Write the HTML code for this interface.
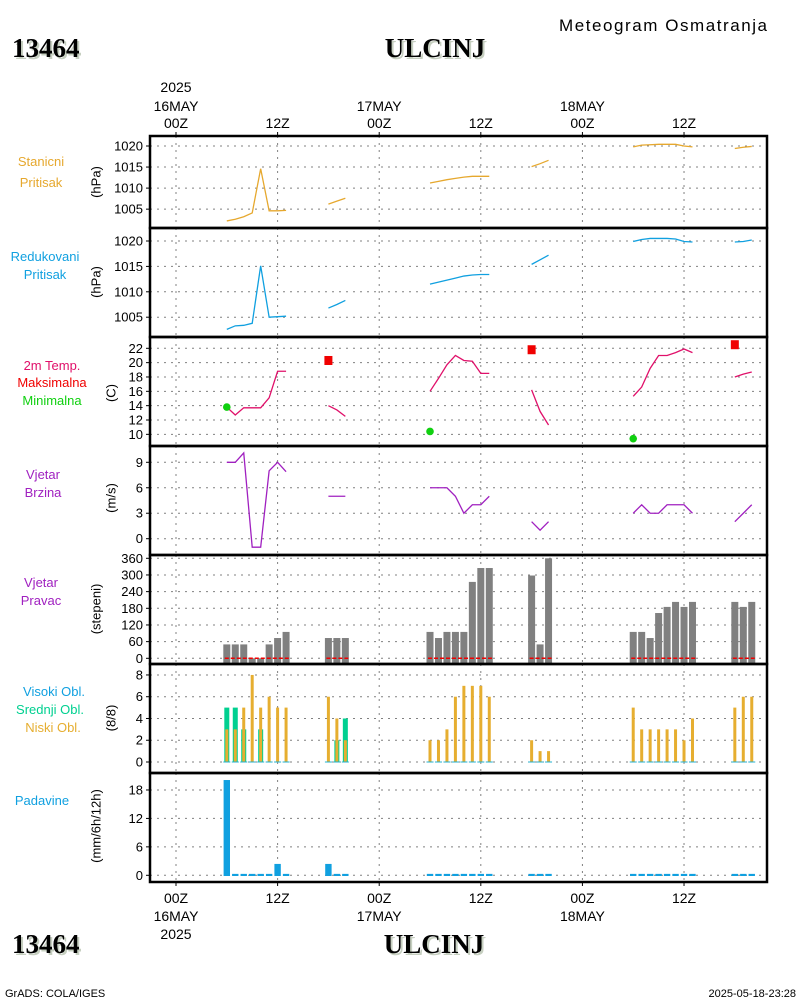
<!DOCTYPE html>
<html><head><meta charset="utf-8"><style>
html,body{margin:0;padding:0;background:#fff;}
svg{display:block;font-family:"Liberation Sans",sans-serif;}
</style></head><body>
<svg id="c" width="800" height="1000" viewBox="0 0 800 1000" xmlns="http://www.w3.org/2000/svg">
<g>
<text x="559" y="31" font-size="17" fill="#000" textLength="208">Meteogram Osmatranja</text>
<text x="14" y="59" font-size="27" font-weight="bold" font-family="Liberation Serif,serif" fill="#c6cfc0">13464</text>
<text x="12" y="57" font-size="27" font-weight="bold" font-family="Liberation Serif,serif" fill="#000">13464</text>
<text x="437" y="59" font-size="27" font-weight="bold" font-family="Liberation Serif,serif" fill="#c6cfc0" text-anchor="middle">ULCINJ</text>
<text x="435" y="57" font-size="27" font-weight="bold" font-family="Liberation Serif,serif" fill="#000" text-anchor="middle">ULCINJ</text>
<text x="14" y="955" font-size="27" font-weight="bold" font-family="Liberation Serif,serif" fill="#c6cfc0">13464</text>
<text x="12" y="953" font-size="27" font-weight="bold" font-family="Liberation Serif,serif" fill="#000">13464</text>
<text x="436" y="955" font-size="27" font-weight="bold" font-family="Liberation Serif,serif" fill="#c6cfc0" text-anchor="middle">ULCINJ</text>
<text x="434" y="953" font-size="27" font-weight="bold" font-family="Liberation Serif,serif" fill="#000" text-anchor="middle">ULCINJ</text>
<text x="5" y="997" font-size="11" fill="#000">GrADS: COLA/IGES</text>
<text x="796" y="997" font-size="11" fill="#000" text-anchor="end">2025-05-18-23:28</text>
</g>
</svg>
<script>
const hours=[6,7,8,9,10,11,12,13,18,19,20,30,31,32,33,34,35,36,37,42,43,44,54,55,56,57,58,59,60,61,66,67,68];
const stationP=[1002.2,1002.6,1003.2,1004.1,1014.6,1004.6,1004.6,1004.7,1006.2,1006.9,1007.6,1011.2,1011.6,1012.0,1012.3,1012.6,1012.8,1012.8,1012.8,1015.1,1015.8,1016.6,1019.8,1020.2,1020.3,1020.4,1020.4,1020.4,1020.0,1019.8,1019.4,1019.7,1019.9];
const redP=[1002.6,1003.3,1003.4,1003.8,1015.1,1005.0,1005.1,1005.2,1006.8,1007.5,1008.3,1011.5,1011.9,1012.3,1012.7,1013.1,1013.3,1013.4,1013.4,1015.4,1016.3,1017.2,1019.9,1020.3,1020.5,1020.5,1020.5,1020.4,1019.9,1019.8,1019.8,1019.9,1020.2];
const temp=[13.8,12.7,13.7,13.7,13.7,15.1,18.8,18.8,14.0,13.4,12.5,16.0,17.8,19.7,21.0,20.3,20.2,18.5,18.5,16.2,13.2,11.3,15.3,16.6,19.2,21.0,21.0,21.4,21.9,21.4,18.0,18.4,18.7];
const maxHours=[18,42,66];
const maxT=[20.3,21.8,22.5];
const minHours=[6,30,54];
const minT=[13.8,10.4,9.4];
const windSpeed=[9,9,10.1,-1,-1,8,9,7.9,5,5,5,6,6,6,5,3,4,4,5,2,1,2,3,4,3,3,4,4,4,3,2,3,4];
const windDir=[50,50,50,0,0,50,73,95,73,73,73,95,73,95,95,95,275,325,325,298,50,360,95,95,73,163,185,203,185,203,203,185,203];
const lowCloud=[3,3,5,8,5,6,5,5,6,4,2,2,2,3,6,7,7,7,6,2,1,1,5,3,3,3,3,3,2,4,5,6,6];
const midCloud=[5,5,3,0,3,0,0,0,0,2,4,0,0,0,0,0,0,0,0,0,0,0,0,0,0,0,0,0,0,0,0,0,0];
const precip=[20.1,0.3,0.3,0.3,0.3,0.3,2.4,0.3,2.4,0.3,0.3,0.3,0.3,0.3,0.3,0.3,0.3,0.3,0.3,0.3,0.3,0.3,0.3,0.3,0.3,0.3,0.3,0.3,0.3,0.3,0.3,0.3,0.3];
const p1Ticks=[1020,1015,1010,1005];
const tTicks=[22,20,18,16,14,12,10];
const wsTicks=[9,6,3,0];
const wdTicks=[360,300,240,180,120,60,0];
const clTicks=[8,6,4,2,0];
const prTicks=[18,12,6,0];
const topLabels=[["2025","16MAY","00Z"],["","","12Z"],["","17MAY","00Z"],["","","12Z"],["","18MAY","00Z"],["","","12Z"]];
const botLabels=[["00Z","16MAY","2025"],["12Z","",""],["00Z","17MAY",""],["12Z","",""],["00Z","18MAY",""],["12Z","",""]];

const NS="http://www.w3.org/2000/svg";
const svg=document.getElementById('c');
function mk(tag,attrs,parent){const e=document.createElementNS(NS,tag);for(const k in attrs)e.setAttribute(k,attrs[k]);(parent||svg).appendChild(e);return e;}
const X0=150,X1=767;
const xh=h=>176+8.467*h;
const panels=[
 {top:136,bot:228,y:v=>146+(1020-v)*4.21},
 {top:228,bot:337,y:v=>241+(1020-v)*5.08},
 {top:337,bot:446,y:v=>348.3+(22-v)*7.17},
 {top:446,bot:555,y:v=>538.7-v*8.49},
 {top:555,bot:664,y:v=>658.3-v*0.2778},
 {top:664,bot:773,y:v=>762-v*10.88},
 {top:773,bot:882,y:v=>875.3-v*4.74}
];
const tickSets=[p1Ticks,p1Ticks,tTicks,wsTicks,wdTicks,clTicks,prTicks];
const tickNames=['station-pressure','reduced-pressure','temperature','wind-speed','wind-direction','cloud-cover','precipitation'];
panels.forEach((p,i)=>{
  const g=mk('g',{});
  
  
  for(let k=0;k<6;k++){const x=xh(12*k);mk('line',{x1:x,x2:x,y1:p.top,y2:p.bot,stroke:'#808080','stroke-width':1,'stroke-dasharray':'2,5'},g);}
  tickSets[i].forEach(v=>{
    const y=p.y(v);
    mk('line',{x1:X0,x2:X1,y1:y,y2:y,stroke:'#808080','stroke-width':1,'stroke-dasharray':'2,5'},g);
    mk('line',{x1:146,x2:X0,y1:y,y2:y,stroke:'#000','stroke-width':1},g);
    const t=mk('text',{x:143,y:y+4.5,'font-size':13,'text-anchor':'end',fill:'#000'},g);
    t.textContent=v;
    
    
  });
});
function segs(vals){const out=[];let cur=[];hours.forEach((h,i)=>{if(cur.length&&h-hours[i-1]>1){out.push(cur);cur=[];}cur.push([h,vals[i],i]);});out.push(cur);return out;}
function lines(vals,p,color,name){
  segs(vals).forEach(s=>{
    const el=mk('polyline',{points:s.map(([h,v])=>xh(h)+','+p.y(v)).join(' '),fill:'none',stroke:color,'stroke-width':1.3});
    
    
  });
}
lines(stationP,panels[0],'#e6a82e','station-pressure-line');
lines(redP,panels[1],'#10a0e0','reduced-pressure-line');
lines(temp,panels[2],'#e0106a','temperature-line');
lines(windSpeed,panels[3],'#a020c0','wind-speed-line');
maxHours.forEach((h,i)=>{const r=mk('rect',{x:xh(h)-4,y:panels[2].y(maxT[i])-4.5,width:8,height:9,fill:'#f00000'});
 
 });
minHours.forEach((h,i)=>{const c=mk('circle',{cx:xh(h),cy:panels[2].y(minT[i]),r:3.8,fill:'#10d010'});
 
 });
hours.forEach((h,i)=>{const y=panels[4].y(windDir[i]);const r=mk('rect',{x:xh(h)-3.5,y:y,width:7,height:663-y,fill:'#808080'});
 
 });
segs(windDir).forEach(s=>{const l=mk('line',{x1:xh(s[0][0])-2,x2:xh(s[s.length-1][0])+3,y1:658.3,y2:658.3,stroke:'#f00000','stroke-width':1.5,'stroke-dasharray':'4,2'});
 
 });
hours.forEach((h,i)=>{
  if(midCloud[i]>0){const y=panels[5].y(midCloud[i]);const r=mk('rect',{x:xh(h)-2.5,y:y,width:5,height:762-y,fill:'#00d090'});
   
   }
  if(lowCloud[i]>0){const y=panels[5].y(lowCloud[i]);const r=mk('rect',{x:xh(h)-1.5,y:y,width:3,height:762-y,fill:'#e6ae30'});
   
   }
  mk('line',{x1:xh(h)-3.5,x2:xh(h)+3.5,y1:762,y2:762,stroke:'#20b0d0','stroke-width':1});
});
hours.forEach((h,i)=>{const y=panels[6].y(precip[i]);const r=mk('rect',{x:xh(h)-3.2,y:y,width:6.4,height:876-y,fill:'#10a0e0'});
 
 });
panels.forEach((p,i)=>{const r=mk('rect',{x:X0,y:p.top,width:X1-X0,height:p.bot-p.top,fill:'none',stroke:'#000','stroke-width':2.5});
 
 });
topLabels.forEach((L,k)=>{const x=xh(12*k);mk('line',{x1:x,x2:x,y1:132,y2:136,stroke:'#000'});
 [87,106,123].forEach((y,j)=>{if(L[j]){const t=mk('text',{x:x,y:y+5,'font-size':14,'text-anchor':'middle',fill:'#000'});t.textContent=L[j];
  
  }});});
botLabels.forEach((L,k)=>{const x=xh(12*k);mk('line',{x1:x,x2:x,y1:882,y2:886,stroke:'#000'});
 [898,916,934].forEach((y,j)=>{if(L[j]){const t=mk('text',{x:x,y:y+5,'font-size':14,'text-anchor':'middle',fill:'#000'});t.textContent=L[j];
  
  }});});
const leftLabels=[
 [[ 'Stanicni',41,166,'#e6a82e'],['Pritisak',41,187,'#e6a82e']],
 [[ 'Redukovani',45,261,'#10a0e0'],['Pritisak',45,279,'#10a0e0']],
 [['2m Temp.',52,370,'#e0106a'],['Maksimalna',52,387,'#f00000'],['Minimalna',52,405,'#10d010']],
 [['Vjetar',43,479,'#a020c0'],['Brzina',43,497,'#a020c0']],
 [['Vjetar',41,587,'#a020c0'],['Pravac',41,605,'#a020c0']],
 [['Visoki Obl.',54,696,'#10a0e0'],['Srednji Obl.',50,714,'#00d090'],['Niski Obl.',53,732,'#e6ae30']],
 [['Padavine',42,805,'#10a0e0']]
];
leftLabels.forEach(grp=>grp.forEach(([s,x,y,c])=>{const t=mk('text',{x:x,y:y,'font-size':13,'text-anchor':'middle',fill:c});t.textContent=s;
 
 }));
const units=[['(hPa)',97,182],['(hPa)',97,282],['(C)',112,393],['(m/s)',112,498],['(stepeni)',97,609],['(8/8)',112,718],['(mm/6h/12h)',97,826]];
units.forEach(([s,x,y])=>{const t=mk('text',{x:x,y:y,'font-size':13,'text-anchor':'middle',fill:'#000',transform:`rotate(-90 ${x} ${y})`,'dominant-baseline':'middle'});t.textContent=s;
 
 });
</script>
</body></html>
